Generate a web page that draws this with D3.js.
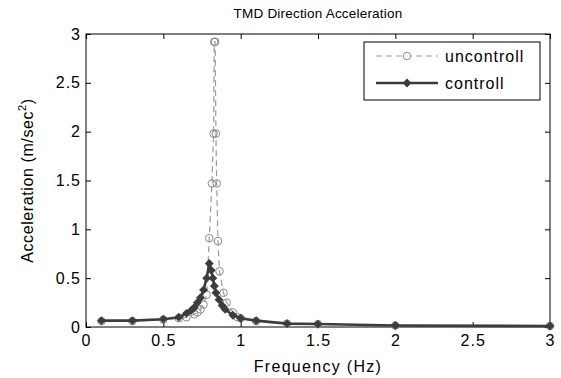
<!DOCTYPE html>
<html>
<head>
<meta charset="utf-8">
<script src="https://cdn.jsdelivr.net/npm/d3@7"></script>
<style>
  body { margin: 0; background: #fff; }
  svg text { font-family: "Liberation Sans", Arial, sans-serif; fill: #000; }
</style>
</head>
<body>
<div id="chart"></div>
<script>
// uncontrolled response (dashed, open circles)
const uncFreq = [0.1, 0.3, 0.5, 0.6, 0.65, 0.7, 0.72, 0.74, 0.76, 0.78, 0.797, 0.814, 0.825, 0.829, 0.835, 0.84, 0.845, 0.853, 0.863, 0.889, 0.91, 0.95, 0.98, 1.0, 1.1, 1.3, 1.5, 2.0, 3.0];
const uncAcc  = [0.06, 0.06, 0.075, 0.09, 0.1, 0.13, 0.15, 0.18, 0.23, 0.33, 0.91, 1.47, 1.98, 2.92, 2.92, 1.98, 1.47, 0.88, 0.57, 0.35, 0.25, 0.15, 0.1, 0.09, 0.06, 0.035, 0.03, 0.015, 0.01];

// controlled response (solid, filled diamonds)
const ctrlFreq = [0.1, 0.3, 0.5, 0.6, 0.65, 0.68, 0.7, 0.72, 0.74, 0.76, 0.78, 0.797, 0.81, 0.82, 0.83, 0.84, 0.86, 0.88, 0.9, 0.95, 1.0, 1.1, 1.3, 1.5, 2.0, 3.0];
const ctrlAcc  = [0.065, 0.065, 0.08, 0.1, 0.14, 0.17, 0.2, 0.25, 0.3, 0.38, 0.5, 0.65, 0.58, 0.5, 0.42, 0.35, 0.28, 0.22, 0.18, 0.12, 0.09, 0.065, 0.035, 0.03, 0.015, 0.01];

const xTicks = [0, 0.5, 1, 1.5, 2, 2.5, 3];
const yTicks = [0, 0.5, 1, 1.5, 2, 2.5, 3];

const W = 561, H = 378;
const margin = { top: 34, right: 11, bottom: 51, left: 86 };
const width = W - margin.left - margin.right;
const height = H - margin.top - margin.bottom;

const svg = d3.select('#chart').append('svg')
  .attr('width', W).attr('height', H);

const g = svg.append('g')
  .attr('transform', `translate(${margin.left},${margin.top})`);

const x = d3.scaleLinear().domain([0, 3]).range([0, width]);
const y = d3.scaleLinear().domain([0, 3]).range([height, 0]);

const fmt = d => String(d);

// axes, ticks pointing inward
const ax = (sel) => { sel.select('.domain').remove(); sel.selectAll('line').attr('stroke', '#000'); };
const lbl = (sel) => sel.selectAll('text').style('font-size', '16px').style('letter-spacing', '1px');
g.append('g').attr('transform', `translate(0,${height})`)
  .call(d3.axisBottom(x).tickValues(xTicks).tickFormat(fmt).tickSizeInner(-5).tickPadding(8))
  .call(ax).call(lbl);
g.append('g')
  .call(d3.axisLeft(y).tickValues(yTicks).tickFormat(fmt).tickSizeInner(-5).tickPadding(5))
  .call(ax).call(lbl);
g.append('g')
  .call(d3.axisTop(x).tickValues(xTicks).tickFormat('').tickSizeInner(-5)).call(ax);
g.append('g').attr('transform', `translate(${width},0)`)
  .call(d3.axisRight(y).tickValues(yTicks).tickFormat('').tickSizeInner(-5)).call(ax);

g.append('rect').attr('width', width).attr('height', height)
  .attr('fill', 'none').attr('stroke', '#000').attr('stroke-width', 1);

const unc = uncFreq.map((f, i) => [f, uncAcc[i]]);
const ctrl = ctrlFreq.map((f, i) => [f, ctrlAcc[i]]);
const line = d3.line().x(d => x(d[0])).y(d => y(d[1]));

g.append('path').datum(unc)
  .attr('fill', 'none').attr('stroke', '#9a9a9a').attr('stroke-width', 1.2)
  .attr('stroke-dasharray', '6,4').attr('d', line);
g.selectAll('.uc').data(unc).enter().append('circle')
  .attr('cx', d => x(d[0])).attr('cy', d => y(d[1])).attr('r', 3.8)
  .attr('fill', 'none').attr('stroke', '#8a8a8a').attr('stroke-width', 1);

g.append('path').datum(ctrl)
  .attr('fill', 'none').attr('stroke', '#3c3c3c').attr('stroke-width', 2.6).attr('d', line);
const diamond = d3.symbol().type(d3.symbolDiamond2).size(50);
g.selectAll('.cd').data(ctrl).enter().append('path')
  .attr('transform', d => `translate(${x(d[0])},${y(d[1])})`)
  .attr('d', diamond).attr('fill', '#3c3c3c');

// legend
const lg = svg.append('g').attr('transform', 'translate(364,42)');
lg.append('rect').attr('width', 176).attr('height', 58)
  .attr('fill', '#fff').attr('stroke', '#000').attr('stroke-width', 1);
lg.append('line').attr('x1', 12).attr('x2', 74).attr('y1', 14).attr('y2', 14)
  .attr('stroke', '#9a9a9a').attr('stroke-width', 1.2).attr('stroke-dasharray', '6,4');
lg.append('circle').attr('cx', 43).attr('cy', 14).attr('r', 3.8)
  .attr('fill', '#fff').attr('stroke', '#8a8a8a');
lg.append('text').attr('x', 81).attr('y', 20).style('font-size', '16px').style('letter-spacing', '1px').text('uncontroll');
lg.append('line').attr('x1', 12).attr('x2', 74).attr('y1', 41).attr('y2', 41)
  .attr('stroke', '#3c3c3c').attr('stroke-width', 2.6);
lg.append('path').attr('transform', 'translate(43,41)').attr('d', diamond).attr('fill', '#3c3c3c');
lg.append('text').attr('x', 81).attr('y', 47).style('font-size', '16px').style('letter-spacing', '1px').text('controll');

// titles
svg.append('text').attr('x', margin.left + width / 2).attr('y', 18)
  .attr('text-anchor', 'middle').style('font-size', '13.5px').style('letter-spacing', '0.2px')
  .text('TMD Direction Acceleration');
svg.append('text').attr('x', margin.left + width / 2).attr('y', 372)
  .attr('text-anchor', 'middle').style('font-size', '16px').style('letter-spacing', '1.3px')
  .text('Frequency (Hz)');
const yl = svg.append('text')
  .attr('transform', `translate(33,${margin.top + height / 2}) rotate(-90)`)
  .attr('text-anchor', 'middle').style('font-size', '16px').style('letter-spacing', '0.6px');
yl.append('tspan').text('Acceleration (m/sec');
yl.append('tspan').attr('dy', -7).style('font-size', '11px').text('2');
yl.append('tspan').attr('dy', 7).text(')');
</script>
</body>
</html>
